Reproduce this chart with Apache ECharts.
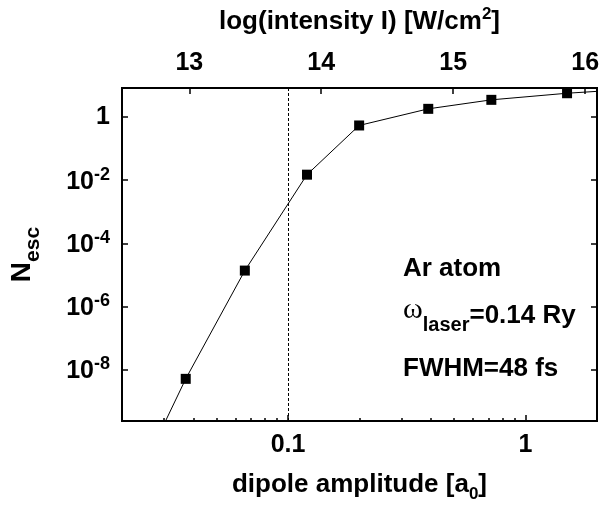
<!DOCTYPE html>
<html><head><meta charset="utf-8">
<script src="https://cdn.jsdelivr.net/npm/echarts@6/dist/echarts.min.js"></script>
<style>html,body{margin:0;padding:0;background:#fff}#c{width:605px;height:506px}</style>
</head><body><div id="c"></div>
<script>
// ---- data ----
const amplitude = [0.02, 0.0371, 0.0658, 0.1202, 0.1993, 0.3895, 0.718, 1.496, 3.0];
const nEsc      = [3e-13, 5.0e-9, 1.36e-5, 0.0150, 0.546, 1.84, 3.55, 5.75, 8.0];
const xMajorTicks = [0.1, 1];
const xMinorTicks = [0.03, 0.04, 0.05, 0.06, 0.07, 0.08, 0.09, 0.2, 0.3, 0.4, 0.5, 0.6, 0.7, 0.8, 0.9];
const yTicks = [1e-8, 1e-6, 1e-4, 1e-2, 1];
const topTicks = [13, 14, 15, 16];
const xRange = [0.02, 2];
const yRange = [2.3e-10, 8.43];
const topRange = [12.49, 16.09];
const thresholdAmplitude = 0.1;

const FF = '"Liberation Sans", Arial, Helvetica, sans-serif';
const chart = echarts.init(document.getElementById('c'), null, {renderer: 'canvas'});
const tickStyle = {color: '#000', width: 1.5};
const lbl = {color: '#000', fontFamily: FF, fontWeight: 'bold', fontSize: 25};

const option = {
  animation: false,
  backgroundColor: '#fff',
  grid: {left: 122, right: 8, top: 88, bottom: 85, show: true, borderColor: '#000', borderWidth: 2,
         containLabel: false, outerBoundsMode: 'none'},
  xAxis: [
    { type: 'log', position: 'bottom', min: xRange[0], max: xRange[1], logBase: 10,
      axisLine: {show: false}, splitLine: {show: false},
      axisTick: {show: true, inside: true, length: 6, lineStyle: tickStyle, customValues: xMajorTicks},
      axisLabel: Object.assign({margin: 12, customValues: xMajorTicks,
        formatter: v => (v >= 1 ? '1' : '0.1')}, lbl),
      name: '{m|dipole amplitude [a}{sub|0}{m|]}', nameLocation: 'middle', nameGap: 51,
      nameTextStyle: {rich: {
        m: {fontFamily: FF, fontWeight: 'bold', fontSize: 26, color: '#000', verticalAlign: 'top', lineHeight: 26},
        sub: {fontFamily: FF, fontWeight: 'bold', fontSize: 17, color: '#000', verticalAlign: 'top', padding: [14, 0, 0, 0], lineHeight: 31}
      }}
    },
    { type: 'value', position: 'top', min: topRange[0], max: topRange[1],
      axisLine: {show: false}, splitLine: {show: false},
      axisTick: {show: true, inside: true, length: 6, lineStyle: tickStyle, customValues: topTicks},
      axisLabel: Object.assign({margin: 12, customValues: topTicks, formatter: v => String(v)}, lbl),
      name: '{m|log(intensity I) [W/cm}{sup|2}{m|]}', nameLocation: 'middle', nameGap: 53,
      nameTextStyle: {rich: {
        m: {fontFamily: FF, fontWeight: 'bold', fontSize: 26, color: '#000', verticalAlign: 'top', padding: [3, 0, 0, 0], lineHeight: 29},
        sup: {fontFamily: FF, fontWeight: 'bold', fontSize: 17, color: '#000', verticalAlign: 'top', lineHeight: 17}
      }}
    },
    { type: 'log', position: 'bottom', min: xRange[0], max: xRange[1], logBase: 10,
      axisLine: {show: false}, splitLine: {show: false}, axisLabel: {show: false},
      axisTick: {show: true, inside: true, length: 3, lineStyle: tickStyle, customValues: xMinorTicks}
    }
  ],
  yAxis: [
    { type: 'log', position: 'left', min: yRange[0], max: yRange[1], logBase: 10,
      axisLine: {show: false}, splitLine: {show: false},
      axisTick: {show: true, inside: true, length: 6, lineStyle: tickStyle, customValues: yTicks},
      axisLabel: {margin: 12, customValues: yTicks, color: '#000',
        formatter: v => { const e = Math.round(Math.log10(v)); return e === 0 ? '{one|1}' : '{b|10}{sup|' + e + '}'; },
        rich: {
          one: {fontFamily: FF, fontWeight: 'bold', fontSize: 25, color: '#000', lineHeight: 26},
          b: {fontFamily: FF, fontWeight: 'bold', fontSize: 25, color: '#000', verticalAlign: 'top', padding: [4, 0, 0, 0], lineHeight: 29},
          sup: {fontFamily: FF, fontWeight: 'bold', fontSize: 18, color: '#000', verticalAlign: 'top', lineHeight: 18}
        }},
      name: '{n|N}{sub|esc}', nameLocation: 'middle', nameRotate: 90, nameGap: 78,
      nameTextStyle: {rich: {
        n: {fontFamily: FF, fontWeight: 'bold', fontSize: 28, color: '#000', verticalAlign: 'top', lineHeight: 28},
        sub: {fontFamily: FF, fontWeight: 'bold', fontSize: 21, color: '#000', verticalAlign: 'top', padding: [15, 0, 0, 0], lineHeight: 36}
      }}
    },
    { type: 'log', position: 'right', min: yRange[0], max: yRange[1], logBase: 10,
      axisLine: {show: false}, splitLine: {show: false}, axisLabel: {show: false},
      axisTick: {show: true, inside: true, length: 6, lineStyle: tickStyle, customValues: yTicks}
    }
  ],
  series: [{
    type: 'line', xAxisIndex: 0, yAxisIndex: 0, clip: true,
    data: amplitude.map((a, i) => [a, nEsc[i]]),
    symbol: 'rect', symbolSize: 10, showSymbol: true, showAllSymbol: true,
    itemStyle: {color: '#000'}, lineStyle: {color: '#000', width: 1},
    markLine: {silent: true, symbol: ['none', 'none'], label: {show: false},
      lineStyle: {color: '#000', width: 1, type: [3, 2]},
      data: [{xAxis: thresholdAmplitude}]}
  }],
  graphic: [
    {type: 'text', x: 403, y: 256, style: {text: 'Ar atom', fontFamily: FF, fontWeight: 'bold', fontSize: 26, fill: '#000', align: 'left', verticalAlign: 'top'}},
    {type: 'text', x: 403, y: 295, style: {text: '{w|ω}{s|laser}{b|=0.14 Ry}', align: 'left', verticalAlign: 'top',
      rich: {
        w: {fontFamily: '"Liberation Serif", "DejaVu Serif", serif', fontSize: 30, fill: '#000', verticalAlign: 'top', lineHeight: 30},
        s: {fontFamily: FF, fontWeight: 'bold', fontSize: 20, fill: '#000', verticalAlign: 'top', padding: [20, 0, 0, 0], lineHeight: 40},
        b: {fontFamily: FF, fontWeight: 'bold', fontSize: 26, fill: '#000', verticalAlign: 'top', padding: [8, 0, 0, 0], lineHeight: 34}
      }}},
    {type: 'text', x: 403, y: 356, style: {text: 'FWHM=48 fs', fontFamily: FF, fontWeight: 'bold', fontSize: 26, fill: '#000', align: 'left', verticalAlign: 'top'}}
  ]
};
chart.setOption(option);
</script>
</body></html>
